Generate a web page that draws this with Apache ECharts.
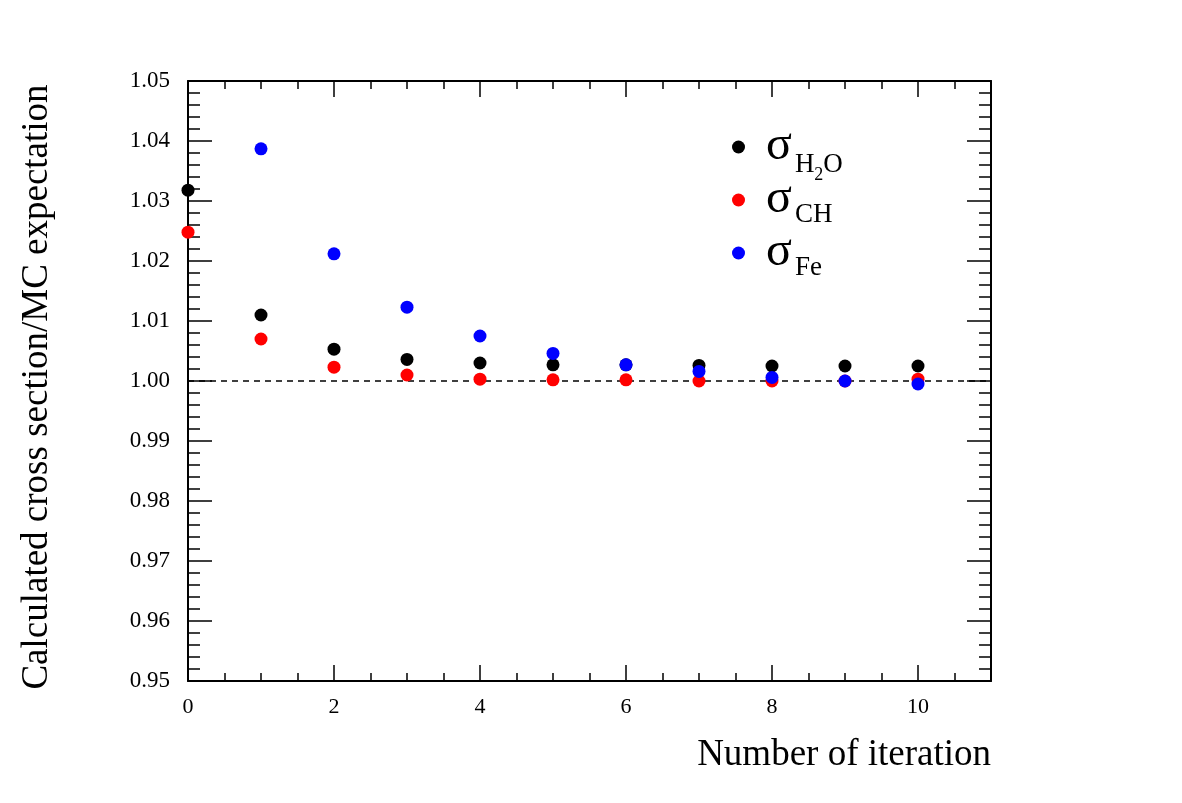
<!DOCTYPE html>
<html>
<head>
<meta charset="utf-8">
<script src="https://cdn.jsdelivr.net/npm/echarts@6/dist/echarts.min.js"></script>
<style>html,body{margin:0;padding:0;background:#fff}#c{width:1182px;height:803px}</style>
</head>
<body>
<div id="c"></div>
<script>
const iterations = [0,1,2,3,4,5,6,7,8,9,10];
const sigmaH2O = [1.0318,1.0110,1.0053,1.0036,1.0030,1.0027,1.0027,1.0026,1.0025,1.0025,1.0025];
const sigmaCH  = [1.0248,1.0070,1.0023,1.0010,1.0003,1.0002,1.0002,1.0000,1.0000,1.0000,1.0003];
const sigmaFe  = [null,1.0387,1.0212,1.0123,1.0075,1.0046,1.0027,1.0016,1.0006,1.0000,0.9995];
const seriesNames = ['H2O','CH','Fe'];
const seriesColors = ['#000000','#ff0000','#0000ff'];
const yTickLabels = ['0.95','0.96','0.97','0.98','0.99','1.00','1.01','1.02','1.03','1.04','1.05'];
const xTitle = 'Number of iteration';
const yTitle = 'Calculated cross section/MC expectation';

const FONT = 'Liberation Serif';
const chart = echarts.init(document.getElementById('c'), null, {renderer:'canvas'});

function pairs(vals){ return iterations.map((x,i)=>[x, vals[i]]).filter(p=>p[1]!==null); }
const allVals = [sigmaH2O, sigmaCH, sigmaFe];

const legendRich = {
  s:{fontFamily:FONT,fontSize:48,lineHeight:60,verticalAlign:'top',color:'#000',padding:[5,0,0,16]},
  sub:{fontFamily:FONT,fontSize:27,lineHeight:20,verticalAlign:'top',color:'#000',padding:[34,0,0,3]},
  subL:{fontFamily:FONT,fontSize:27,lineHeight:20,verticalAlign:'top',color:'#000',padding:[31,0,0,3]},
  sub2:{fontFamily:FONT,fontSize:18,lineHeight:20,verticalAlign:'top',color:'#000',padding:[49,0,0,0]},
  sub3:{fontFamily:FONT,fontSize:27,lineHeight:20,verticalAlign:'top',color:'#000',padding:[34,0,0,0]}
};
function legendFmt(name){
  if(name==='H2O') return '{s|σ}{sub|H}{sub2|2}{sub3|O}';
  return '{s|σ}{subL|'+name+'}';
}
const legendTops = [117,170,223];

const axisBase = {
  axisLine:{show:true,onZero:false,lineStyle:{color:'#000',width:2}},
  splitLine:{show:false}
};

const option = {
  backgroundColor:'#fff',
  animation:false,
  grid:{left:188,right:191,top:81,bottom:122,containLabel:false},
  legend: seriesNames.map((n,k)=>({
    orient:'vertical', left:732, top:legendTops[k], padding:0, itemWidth:13, itemHeight:13,
    icon:'circle', data:[n], formatter:legendFmt, selectedMode:false,
    textStyle:{rich:legendRich}
  })),
  xAxis:[
    Object.assign({}, axisBase, {
      type:'value', min:0, max:11, interval:2, position:'bottom',
      name:xTitle, nameLocation:'end', nameGap:0,
      nameTextStyle:{fontFamily:FONT,fontSize:37,color:'#000',align:'right',verticalAlign:'top',padding:[56,0,0,0]},
      axisTick:{show:true,inside:true,length:16,lineStyle:{color:'#000',width:1.5}},
      minorTick:{show:true,splitNumber:4,length:8,lineStyle:{color:'#000',width:1.5}},
      axisLabel:{fontFamily:FONT,fontSize:22,color:'#000',margin:15,showMaxLabel:false}
    }),
    Object.assign({}, axisBase, {
      type:'value', min:0, max:11, interval:2, position:'top',
      axisTick:{show:true,inside:true,length:16,lineStyle:{color:'#000',width:1.5}},
      minorTick:{show:true,splitNumber:4,length:8,lineStyle:{color:'#000',width:1.5}},
      axisLabel:{show:false}
    })
  ],
  yAxis:[
    Object.assign({}, axisBase, {
      type:'value', min:0.95, max:1.05, interval:0.01, position:'left',
      name:yTitle, nameLocation:'middle', nameGap:132, nameRotate:90,
      nameTextStyle:{fontFamily:FONT,fontSize:37,color:'#000',padding:[0,12,0,0]},
      axisTick:{show:true,inside:true,length:24,lineStyle:{color:'#000',width:1.5}},
      minorTick:{show:true,splitNumber:5,length:12,lineStyle:{color:'#000',width:1.5}},
      axisLabel:{fontFamily:FONT,fontSize:23,color:'#000',margin:18,
        formatter:(v)=>{const i=Math.round((v-0.95)/0.01);return yTickLabels[i]!==undefined?yTickLabels[i]:'';}}
    }),
    Object.assign({}, axisBase, {
      type:'value', min:0.95, max:1.05, interval:0.01, position:'right',
      axisTick:{show:true,inside:true,length:24,lineStyle:{color:'#000',width:1.5}},
      minorTick:{show:true,splitNumber:5,length:12,lineStyle:{color:'#000',width:1.5}},
      axisLabel:{show:false}
    })
  ],
  series: seriesNames.map((n,k)=>{
    const s = {
      name:n, type:'scatter', data:pairs(allVals[k]), symbol:'circle', symbolSize:13,
      itemStyle:{color:seriesColors[k], opacity:1}, z:3+k
    };
    if(k===0){
      s.markLine = {silent:true, symbol:'none', label:{show:false}, z:1,
        lineStyle:{color:'#000',width:1.5,type:[6,5],opacity:1}, data:[{yAxis:1.0}]};
    }
    return s;
  })
};
chart.setOption(option);
</script>
</body>
</html>
